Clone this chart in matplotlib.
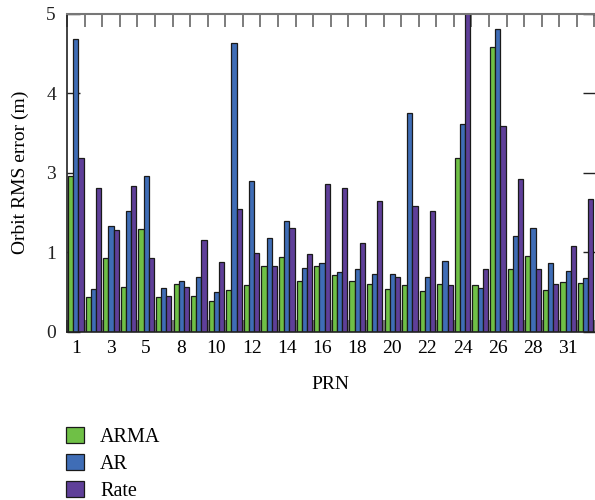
import numpy as np
import matplotlib
matplotlib.use("Agg")
import matplotlib.pyplot as plt

# PRN categories and RMS errors (m)
prn = [1, 2, 3, 4, 5, 7, 8, 9, 10, 11, 12, 13, 14, 15, 16, 17, 18, 19, 20,
       21, 22, 23, 24, 25, 26, 27, 28, 29, 31, 32]
arma = [2.92, 0.43, 0.92, 0.56, 1.59, 0.44, 0.60, 0.45, 0.38, 0.52,
        0.59, 0.83, 0.94, 0.64, 0.82, 0.71, 0.63, 0.60, 0.53, 0.59,
        0.51, 0.60, 3.18, 0.58, 4.58, 0.79, 0.95, 0.52, 0.62, 0.61]
ar = [4.68, 0.53, 1.66, 2.03, 2.93, 0.55, 0.63, 0.69, 0.50, 4.64,
      2.79, 1.35, 1.78, 0.80, 0.86, 0.75, 0.79, 0.72, 0.73, 3.75,
      0.69, 0.89, 3.62, 0.55, 4.81, 1.40, 1.61, 0.86, 0.76, 0.68]
rate = [3.18, 2.61, 1.57, 2.66, 0.92, 0.45, 0.56, 1.30, 0.87, 2.09,
        0.99, 0.82, 1.61, 0.98, 2.71, 2.62, 1.24, 2.28, 0.69, 2.15,
        2.03, 0.58, 5.30, 0.79, 3.59, 2.84, 0.79, 0.60, 1.15, 2.34]
series = ["ARMA", "AR", "Rate"]
colors = ["#6fc046", "#3f6db6", "#5f3f99"]
yticks = [0, 1, 3, 4, 5]

plt.rcParams['font.family'] = ['Liberation Serif', 'DejaVu Serif']

# the y axis labels are evenly spaced 0,1,3,4,5 -> piecewise scale
lab = [-1, 0, 1, 3, 4, 5, 6]
pos = [-1, 0, 1, 2, 3, 4, 5]
fwd = lambda v: np.interp(v, lab, pos)
inv = lambda u: np.interp(u, pos, lab)

fig = plt.figure(figsize=(5.95, 5.0), dpi=100)
ax = fig.add_axes([67/595, 1 - 331.5/500, 1 - 67/595 - 0.5/595, (331.5 - 14)/500])
ax.set_yscale('function', functions=(fwd, inv))

x = np.arange(len(prn))
w = 0.295
for i, (vals, name) in enumerate(zip([arma, ar, rate], series)):
    ax.bar(x + (i - 1) * w, vals, w, color=colors[i], edgecolor='#1a1a1a',
           linewidth=0.9, label=name, zorder=2)

ax.set_xlim(-0.5, len(prn) - 0.5)
ax.set_ylim(0, 5)
ax.set_yticks(yticks)
ax.set_yticklabels([str(t) for t in yticks])
ax.set_xticks(x[::2])
ax.set_xticklabels([str(p) for p in prn[::2]])
ax.set_xticks(np.arange(len(prn) + 1) - 0.5, minor=True)

ax.tick_params(axis='y', direction='in', length=9, width=1, labelsize=14,
               pad=8, right=True, colors='#222222')
ax.tick_params(axis='x', which='major', length=0, labelsize=14, pad=6)
ax.tick_params(axis='x', which='minor', direction='in', length=9, width=1.2,
               top=True, bottom=True, color='#666666')
ax.yaxis.set_minor_locator(matplotlib.ticker.NullLocator())

for s in ['left', 'bottom']:
    ax.spines[s].set_color('#222222')
    ax.spines[s].set_linewidth(1.2)
ax.spines['top'].set_color('#777777')
ax.spines['top'].set_linewidth(1.5)
ax.spines['right'].set_visible(False)

ax.set_ylabel('Orbit RMS error (m)', fontsize=14, labelpad=12)
ax.set_xlabel('PRN', fontsize=14, labelpad=14)

fig.legend(loc='upper left', bbox_to_anchor=(58/595, 1 - 419/500),
           frameon=False, fontsize=14.5, handlelength=0.9, handleheight=0.85,
           handletextpad=0.8, labelspacing=0.34, borderaxespad=0)

fig.savefig('out.png', dpi=100)
